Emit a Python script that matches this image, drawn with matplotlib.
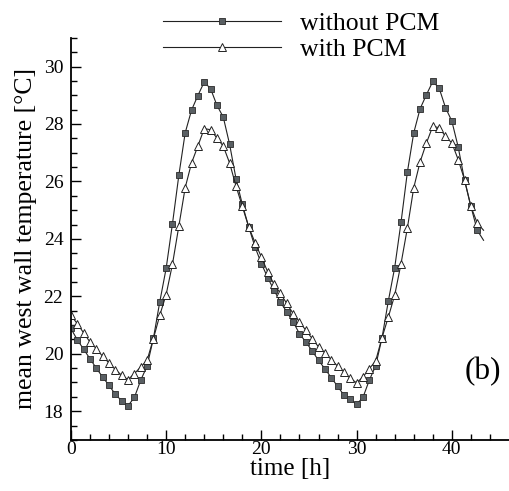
import numpy as np
import matplotlib
matplotlib.use('Agg')
import matplotlib.pyplot as plt

plt.rc('font', family='Liberation Serif')

# time in hours, markers every 40 min; last value is only the line tail
time_h = np.append(np.arange(65) * 2.0 / 3.0, 43.33)

without_pcm = np.array([
    20.88, 20.49, 20.16, 19.83, 19.50, 19.19, 18.90, 18.59, 18.36, 18.19,
    18.48, 19.08, 19.57, 20.54, 21.81, 22.97, 24.53, 26.21, 27.69, 28.48,
    28.99, 29.46, 29.23, 28.65, 28.24, 27.29, 26.10, 25.20, 24.42, 23.72,
    23.14, 22.65, 22.21, 21.80, 21.46, 21.11, 20.70, 20.41, 20.10, 19.77,
    19.48, 19.17, 18.87, 18.56, 18.41, 18.24, 18.48, 19.08, 19.58, 20.55,
    21.84, 23.00, 24.58, 26.33, 27.69, 28.53, 29.02, 29.48, 29.25, 28.57,
    28.10, 27.20, 26.04, 25.13, 24.30, 23.95])

with_pcm = np.array([
    21.34, 21.05, 20.73, 20.41, 20.18, 19.91, 19.68, 19.45, 19.25, 19.10,
    19.31, 19.54, 19.77, 20.53, 21.34, 22.06, 23.12, 24.44, 25.78, 26.64,
    27.23, 27.84, 27.80, 27.51, 27.23, 26.64, 25.84, 25.13, 24.42, 23.87,
    23.37, 22.85, 22.42, 22.10, 21.75, 21.40, 21.11, 20.82, 20.53, 20.24,
    20.03, 19.80, 19.57, 19.37, 19.14, 18.99, 19.19, 19.48, 19.75, 20.56,
    21.28, 22.04, 23.14, 24.38, 25.78, 26.68, 27.34, 27.92, 27.87, 27.57,
    27.34, 26.76, 26.06, 25.13, 24.55, 24.30])

fig = plt.figure(figsize=(5.10, 4.91), dpi=100)
ax = fig.add_axes([0.139, 0.104, 0.859, 0.819])

ax.plot(time_h, without_pcm, color='#222222', lw=0.8, marker='s', ms=4.8,
        mfc='#595f63', mec='#2a2a2a', mew=0.6, markevery=slice(0, 65),
        label='without PCM')
ax.plot(time_h, with_pcm, color='#222222', lw=0.8, marker='^', ms=5.2,
        mfc='white', mec='#222222', mew=0.7, markevery=slice(0, 65),
        label='with PCM')

ax.set_xlim(0, 46)
ax.set_ylim(17, 31)
ax.set_xticks([0, 10, 20, 30, 40])
ax.set_xticks(np.arange(0, 46, 2), minor=True)
ax.set_yticks([18, 20, 22, 24, 26, 28, 30])
ax.set_yticks(np.arange(17, 31.01, 0.5), minor=True)
ax.tick_params(which='both', direction='in', labelsize=14, width=1.0)
ax.tick_params(which='major', length=7)
ax.tick_params(which='minor', length=4)
ax.tick_params(axis='y', pad=5.5)
ax.tick_params(axis='x', pad=1)

for s in ['top', 'right']:
    ax.spines[s].set_visible(False)
for s in ['left', 'bottom']:
    ax.spines[s].set_linewidth(1.3)

ax.set_xlabel('time [h]', fontsize=18, labelpad=0)
ax.set_ylabel('mean west wall temperature [°C]', fontsize=18.5, labelpad=5)

ax.text(0.94, 0.17, '(b)', transform=ax.transAxes, fontsize=22.5,
        ha='center', va='center')

fig.legend(loc='upper left', bbox_to_anchor=(0.32, 0.975), frameon=False,
           fontsize=18.5, handlelength=4.6, handletextpad=0.74,
           labelspacing=0.11, borderpad=0, borderaxespad=0)

plt.savefig('out.png', dpi=100)
